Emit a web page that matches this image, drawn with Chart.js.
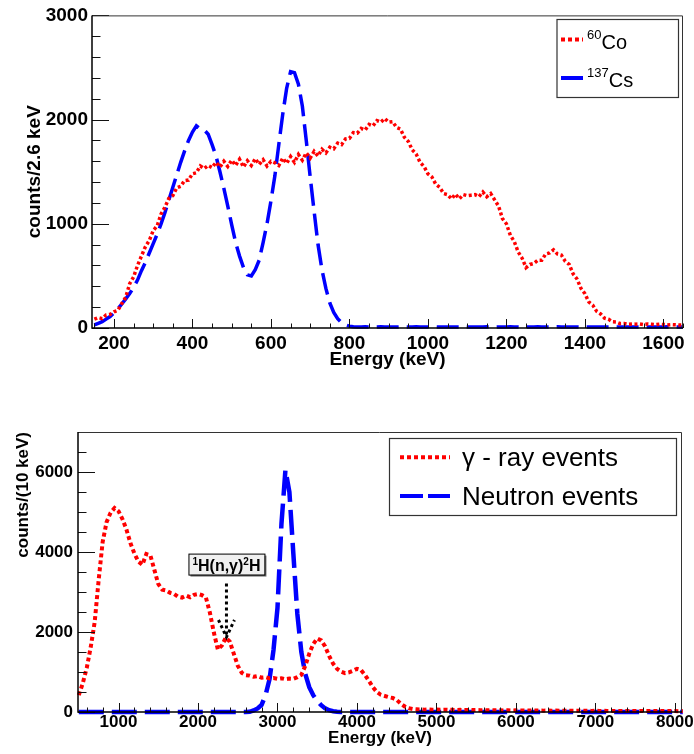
<!DOCTYPE html>
<html>
<head>
<meta charset="utf-8">
<script src="https://cdn.jsdelivr.net/npm/chart.js@4.4.1/dist/chart.umd.min.js"></script>
<style>
  body { margin: 0; background: #fff; }
  #wrap { position: relative; width: 694px; height: 754px; }
  canvas { position: absolute; left: 0; }
  #spectrumTop { top: 0; }
  #spectrumBottom { top: 380px; }
</style>
</head>
<body>
<div id="wrap">
  <canvas id="spectrumTop" width="694" height="376"></canvas>
  <canvas id="spectrumBottom" width="694" height="374"></canvas>
</div>
<script>
// upper panel: 10 keV bins starting at 150 keV
const topBinStart = 150;
const topBinWidth = 10;
const co60Counts = [
  85, 100, 90, 125, 130, 155, 170, 235, 295, 425,
  490, 600, 690, 780, 840, 935, 980, 1095, 1160, 1245,
  1270, 1345, 1360, 1415, 1420, 1480, 1490, 1555, 1530, 1560,
  1540, 1590, 1545, 1600, 1550, 1610, 1560, 1620, 1545, 1605,
  1560, 1625, 1570, 1615, 1555, 1600, 1585, 1560, 1630, 1580,
  1645, 1590, 1665, 1610, 1680, 1630, 1695, 1650, 1715, 1680,
  1735, 1720, 1775, 1760, 1815, 1820, 1875, 1870, 1915, 1900,
  1955, 1940, 1990, 1975, 2010, 1975, 1980, 1925, 1910, 1830,
  1790, 1710, 1670, 1590, 1550, 1480, 1450, 1380, 1350, 1290,
  1280, 1240, 1285, 1240, 1280, 1270, 1275, 1280, 1260, 1305,
  1260, 1290, 1230, 1170, 1050, 1000, 890, 830, 730, 670,
  580, 610, 620, 650, 650, 710, 720, 750, 710, 700,
  640, 610, 520, 470, 380, 330, 250, 220, 160, 135,
  95, 85, 60, 58, 42, 43, 35, 38, 37, 39,
  33, 38, 35, 32, 36, 34, 30, 33, 31, 29,
  30
];
const cs137Counts = [
  30, 45, 60, 85, 110, 145, 185, 230, 280, 330,
  390, 460, 550, 630, 720, 810, 900, 1000, 1110, 1230,
  1350, 1470, 1590, 1700, 1800, 1880, 1940, 1910, 1900, 1860,
  1760, 1650, 1500, 1340, 1170, 990, 820, 690, 580, 510,
  500, 560, 650, 820, 1000, 1220, 1460, 1760, 2050, 2300,
  2460, 2450, 2340, 2130, 1800, 1450, 1120, 800, 560, 380,
  240, 150, 90, 50, 30, 18, 12, 10, 9, 11,
  10, 9, 10, 11, 9, 10, 10, 9, 11, 10,
  9, 10, 11, 10, 9, 10, 10, 11, 9, 10,
  10, 9, 10, 10, 11, 9, 10, 10, 9, 10,
  11, 10, 9, 10, 10, 9, 11, 10, 10, 9,
  10, 10, 9, 11, 10, 9, 10, 10, 11, 9,
  10, 9, 10, 10, 9, 11, 10, 9, 10, 10,
  9, 10, 11, 10, 9, 10, 10, 9, 10, 11,
  10, 9, 10, 10, 9, 10, 11, 10, 9, 10,
  10
];
const topXTicks = [200, 400, 600, 800, 1000, 1200, 1400, 1600];
const topYTicks = [0, 1000, 2000, 3000];

// lower panel: 50 keV bins starting at 500 keV
const bottomBinStart = 500;
const bottomBinWidth = 50;
const gammaCounts = [
  420, 720, 1100, 1620, 2250, 3300, 4250, 4750, 4980, 5100,
  5020, 4820, 4560, 4220, 3960, 3760, 3680, 3950, 3920, 3560,
  3200, 3060, 3040, 2980, 2950, 2880, 2860, 2910, 2870, 2930,
  2950, 2920, 2860, 2480, 1980, 1560, 1660, 1860, 1760, 1460,
  1160, 980, 920, 910, 880, 900, 860, 870, 840, 850,
  830, 845, 820, 835, 830, 870, 930, 1150, 1460, 1700,
  1840, 1790, 1640, 1400, 1210, 1080, 1010, 970, 990, 1030,
  1080, 1050, 930, 780, 620, 500, 430, 400, 370, 350,
  300, 210, 140, 95, 75, 68, 62, 58, 64, 57,
  60, 55, 58, 52, 56, 50, 54, 49, 52, 47,
  50, 45, 48, 44, 46, 42, 44, 40, 43, 39,
  41, 38, 40, 36, 38, 35, 37, 34, 36, 33,
  35, 32, 34, 31, 33, 30, 32, 29, 31, 28,
  30, 27, 29, 27, 28, 26, 28, 25, 27, 25,
  26, 24, 26, 23, 25, 23, 24, 22, 24, 22,
  23, 21, 22
];
const neutronCounts = [
  0, 0, 0, 0, 0, 0, 0, 0, 0, 0,
  0, 0, 0, 0, 0, 0, 0, 0, 0, 0,
  0, 0, 0, 0, 0, 0, 0, 0, 0, 0,
  0, 0, 0, 0, 0, 0, 0, 0, 0, 0,
  0, 0, 0, 5, 40, 90, 180, 420, 820, 1550,
  2600, 4700, 6050, 5500, 3950, 2450, 1500, 950, 620, 420,
  280, 170, 90, 45, 20, 8, 0, 0, 0, 0,
  0, 0, 0, 0, 0, 0, 0, 0, 0, 0,
  0, 0, 0, 0, 0, 0, 0, 0, 0, 0,
  0, 0, 0, 0, 0, 0, 0, 0, 0, 0,
  0, 0, 0, 0, 0, 0, 0, 0, 0, 0,
  0, 0, 0, 0, 0, 0, 0, 0, 0, 0,
  0, 0, 0, 0, 0, 0, 0, 0, 0, 0,
  0, 0, 0, 0, 0, 0, 0, 0, 0, 0,
  0, 0, 0, 0, 0, 0, 0, 0, 0, 0,
  0, 0, 0
];
const bottomXTicks = [1000, 2000, 3000, 4000, 5000, 6000, 7000, 8000];
const bottomYTicks = [0, 2000, 4000, 6000];

const FONT = "'Liberation Sans', Arial, Helvetica, sans-serif";

function toPoints(start, width, counts) {
  return counts.map((c, i) => ({ x: start + i * width, y: c }));
}

// ROOT style frame with inward ticks
const rootFrame = {
  id: 'rootFrame',
  afterDatasetsDraw(chart, args, o) {
    const { ctx, chartArea: a, scales: { x, y } } = chart;
    ctx.save();
    ctx.strokeStyle = '#111';
    ctx.lineWidth = 1;
    ctx.beginPath();
    for (let v = Math.ceil(x.min / o.xMinor) * o.xMinor; v <= x.max; v += o.xMinor) {
      const px = Math.round(x.getPixelForValue(v)) + 0.5;
      const len = o.xMajor.includes(v) ? o.xLen : o.xLen / 2;
      ctx.moveTo(px, a.bottom);
      ctx.lineTo(px, a.bottom - len);
    }
    for (let v = Math.ceil(y.min / o.yMinor) * o.yMinor; v <= y.max; v += o.yMinor) {
      const py = Math.round(y.getPixelForValue(v)) + 0.5;
      const len = o.yMajor.includes(v) ? o.yLen : o.yLen / 2;
      ctx.moveTo(a.left, py);
      ctx.lineTo(a.left + len, py);
    }
    ctx.stroke();
    ctx.strokeStyle = '#333';
    ctx.beginPath();
    ctx.moveTo(a.left, a.top + 0.5);
    ctx.lineTo(a.right - 0.5, a.top + 0.5);
    ctx.lineTo(a.right - 0.5, a.bottom);
    ctx.stroke();
    ctx.strokeStyle = '#000';
    ctx.lineWidth = 1.5;
    ctx.beginPath();
    ctx.moveTo(a.left, a.top);
    ctx.lineTo(a.left, a.bottom);
    ctx.lineTo(a.right, a.bottom);
    ctx.stroke();
    ctx.restore();
  }
};

// boxed legend, built from the datasets
const boxLegend = {
  id: 'boxLegend',
  afterDraw(chart, args, o) {
    const ctx = chart.ctx;
    const [x1, y1, x2, y2] = o.box;
    ctx.save();
    ctx.fillStyle = '#fff';
    ctx.fillRect(x1, y1, x2 - x1, y2 - y1);
    ctx.strokeStyle = '#333';
    ctx.lineWidth = 1.2;
    ctx.strokeRect(x1, y1, x2 - x1, y2 - y1);
    chart.data.datasets.forEach((ds, i) => {
      const row = o.rows[i];
      ctx.strokeStyle = ds.borderColor;
      ctx.lineWidth = 4;
      ctx.lineCap = 'butt';
      ctx.setLineDash(row.dash);
      ctx.beginPath();
      ctx.moveTo(o.sampleX[0], row.y);
      ctx.lineTo(o.sampleX[1], row.y);
      ctx.stroke();
      ctx.setLineDash([]);
      ctx.fillStyle = '#000';
      ctx.textAlign = 'left';
      ctx.textBaseline = 'alphabetic';
      let tx = o.textX;
      if (ds.labelSup) {
        ctx.font = o.supFont;
        ctx.fillText(ds.labelSup, tx, row.supBase);
        tx += ctx.measureText(ds.labelSup).width;
      }
      ctx.font = o.font;
      ctx.fillText(ds.label, tx, row.base);
    });
    ctx.restore();
  }
};

// 1H(n,g)2H label with dotted arrow
const reactionLabel = {
  id: 'reactionLabel',
  afterDatasetsDraw(chart, args, o) {
    if (!o.energy) return;
    const { ctx, scales: { x, y } } = chart;
    const cx = x.getPixelForValue(o.energy);
    const top = y.getPixelForValue(o.boxTop);
    const w = 76, h = 21;
    ctx.save();
    ctx.fillStyle = '#777';
    ctx.fillRect(cx - w / 2 + 2, top + 2, w, h);
    ctx.fillStyle = '#f0f0f0';
    ctx.fillRect(cx - w / 2, top, w, h);
    ctx.strokeStyle = '#000';
    ctx.lineWidth = 1;
    ctx.strokeRect(cx - w / 2 + 0.5, top + 0.5, w, h);
    const parts = [['1', 'bold 10px ' + FONT, -6], ['H(n,\u03b3)', 'bold 16px ' + FONT, 0],
                   ['2', 'bold 10px ' + FONT, -6], ['H', 'bold 16px ' + FONT, 0]];
    let total = 0;
    parts.forEach(p => { ctx.font = p[1]; total += ctx.measureText(p[0]).width; });
    let tx = cx - total / 2;
    const base = top + 17;
    ctx.fillStyle = '#000';
    ctx.textBaseline = 'alphabetic';
    ctx.textAlign = 'left';
    parts.forEach(p => {
      ctx.font = p[1];
      ctx.fillText(p[0], tx, base + p[2]);
      tx += ctx.measureText(p[0]).width;
    });
    const from = y.getPixelForValue(o.arrowFrom);
    const tip = y.getPixelForValue(o.arrowTo);
    ctx.lineWidth = 3;
    ctx.setLineDash([3, 3]);
    ctx.beginPath();
    ctx.moveTo(cx, from);
    ctx.lineTo(cx, tip);
    ctx.moveTo(cx - 8, tip - 17);
    ctx.lineTo(cx, tip);
    ctx.lineTo(cx + 8, tip - 17);
    ctx.stroke();
    ctx.restore();
  }
};

const ctx1 = document.getElementById('spectrumTop').getContext('2d');
const topChart = new Chart(ctx1, {
  type: 'line',
  data: {
    datasets: [{
      label: 'Co',
      labelSup: '60',
      data: toPoints(topBinStart, topBinWidth, co60Counts),
      borderColor: '#ff0000',
      borderWidth: 3.5,
      borderDash: [3, 2.5],
      pointRadius: 0,
      tension: 0,
      clip: 6
    }, {
      label: 'Cs',
      labelSup: '137',
      data: toPoints(topBinStart, topBinWidth, cs137Counts),
      borderColor: '#0000ff',
      borderWidth: 3.5,
      borderDash: [22, 8],
      pointRadius: 0,
      tension: 0,
      clip: 6
    }]
  },
  options: {
    responsive: false,
    animation: false,
    layout: { padding: { top: 15, right: 11, left: 0, bottom: 0 } },
    plugins: {
      legend: { display: false },
      tooltip: { enabled: false },
      rootFrame: { xMinor: 50, xMajor: topXTicks, xLen: 9, yMinor: 200, yMajor: topYTicks, yLen: 17 },
      boxLegend: {
        box: [557, 19.5, 678.5, 97.5],
        sampleX: [561, 583],
        textX: 587,
        font: '20px ' + FONT,
        supFont: '13px ' + FONT,
        rows: [
          { y: 39.5, dash: [4, 3], base: 48.5, supBase: 39 },
          { y: 78, dash: [], base: 86.5, supBase: 77 }
        ]
      },
      reactionLabel: {}
    },
    scales: {
      x: {
        type: 'linear',
        min: 144,
        max: 1650,
        afterFit: s => { s.height = 48; },
        afterBuildTicks: s => { s.ticks = topXTicks.map(v => ({ value: v })); },
        grid: { display: false, drawTicks: false, tickLength: 0 },
        border: { display: false },
        ticks: { callback: v => String(v), color: '#000', padding: 4, maxRotation: 0, autoSkip: false,
                 font: { family: FONT, size: 19, weight: 'bold' } },
        title: { display: true, text: 'Energy (keV)', color: '#000', padding: { top: 0, bottom: 5 },
                 font: { family: FONT, size: 19, weight: 'bold' } }
      },
      y: {
        min: 0,
        max: 3000,
        afterFit: s => { s.width = 92; },
        afterBuildTicks: s => { s.ticks = topYTicks.map(v => ({ value: v })); },
        grid: { display: false, drawTicks: false, tickLength: 0 },
        border: { display: false },
        ticks: { callback: v => String(v), color: '#000', padding: 4, autoSkip: false,
                 font: { family: FONT, size: 19, weight: 'bold' } },
        title: { display: true, text: 'counts/2.6 keV', color: '#000', padding: { top: 23, bottom: 0 },
                 font: { family: FONT, size: 19, weight: 'bold' } }
      }
    }
  },
  plugins: [rootFrame, boxLegend, reactionLabel]
});

const ctx2 = document.getElementById('spectrumBottom').getContext('2d');
const bottomChart = new Chart(ctx2, {
  type: 'line',
  data: {
    datasets: [{
      label: '\u03b3 - ray events',
      data: toPoints(bottomBinStart, bottomBinWidth, gammaCounts),
      borderColor: '#ff0000',
      borderWidth: 4,
      borderDash: [4, 3],
      pointRadius: 0,
      tension: 0,
      clip: 6
    }, {
      label: 'Neutron events',
      data: toPoints(bottomBinStart, bottomBinWidth, neutronCounts),
      borderColor: '#0000ff',
      borderWidth: 4.5,
      borderDash: [25, 8],
      pointRadius: 0,
      tension: 0,
      clip: 6
    }]
  },
  options: {
    responsive: false,
    animation: false,
    layout: { padding: { top: 52, right: 12, left: 0, bottom: 0 } },
    plugins: {
      legend: { display: false },
      tooltip: { enabled: false },
      rootFrame: { xMinor: 200, xMajor: bottomXTicks, xLen: 9, yMinor: 500, yMajor: bottomYTicks, yLen: 17 },
      boxLegend: {
        box: [389.5, 58.5, 676.5, 135.5],
        sampleX: [400, 450],
        textX: 462,
        font: '26px ' + FONT,
        supFont: '14px ' + FONT,
        rows: [
          { y: 77.3, dash: [4, 3], base: 85.5 },
          { y: 116, dash: [23, 5], base: 125 }
        ]
      },
      reactionLabel: { energy: 2358, boxTop: 3960, arrowFrom: 3210, arrowTo: 1875 }
    },
    scales: {
      x: {
        type: 'linear',
        min: 490,
        max: 8090,
        afterFit: s => { s.height = 42; },
        afterBuildTicks: s => { s.ticks = bottomXTicks.map(v => ({ value: v })); },
        grid: { display: false, drawTicks: false, tickLength: 0 },
        border: { display: false },
        ticks: { callback: v => String(v), color: '#000', padding: 0, maxRotation: 0, autoSkip: false,
                 font: { family: FONT, size: 17, weight: 'bold' } },
        title: { display: true, text: 'Energy (keV)', color: '#000', padding: { top: 0, bottom: 5 },
                 font: { family: FONT, size: 17, weight: 'bold' } }
      },
      y: {
        min: 0,
        max: 7000,
        afterFit: s => { s.width = 78; },
        afterBuildTicks: s => { s.ticks = bottomYTicks.map(v => ({ value: v })); },
        grid: { display: false, drawTicks: false, tickLength: 0 },
        border: { display: false },
        ticks: { callback: v => String(v), color: '#000', padding: 5, autoSkip: false,
                 font: { family: FONT, size: 17, weight: 'bold' } },
        title: { display: true, text: 'counts/(10 keV)', color: '#000', align: 'end', padding: { top: 13, bottom: 0 },
                 font: { family: FONT, size: 17, weight: 'bold' } }
      }
    }
  },
  plugins: [rootFrame, boxLegend, reactionLabel]
});
</script>
</body>
</html>
